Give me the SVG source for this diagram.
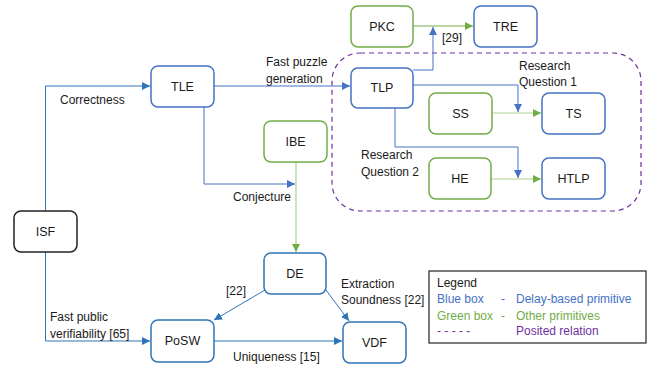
<svg xmlns="http://www.w3.org/2000/svg" width="648" height="369" viewBox="0 0 648 369">
<style>
text{font-family:"Liberation Sans",Arial,sans-serif;font-size:12px;fill:#1a1a1a}
.lbl{text-anchor:middle;font-size:12.5px}
.b rect{fill:#fff;stroke:#4472C4;stroke-width:1.5}
.c rect{fill:#fff;stroke:#2E75B6;stroke-width:1.5}
.g rect{fill:#fff;stroke:#70AD47;stroke-width:1.5}
.k rect{fill:#fff;stroke:#222;stroke-width:1.5}
.lb{fill:none;stroke:#4472C4;stroke-width:1}
.lc{fill:none;stroke:#2E75B6;stroke-width:1}
.lg{fill:none;stroke:#70AD47;stroke-width:1}
.lgl{fill:none;stroke:#A9D18E;stroke-width:1.2}
</style>
<defs>
<marker id="ab" viewBox="0 0 10 10" refX="10" refY="5" markerWidth="8" markerHeight="8" markerUnits="userSpaceOnUse" orient="auto"><path d="M0,0L10,5L0,10z" fill="#4472C4"/></marker>
<marker id="ac" viewBox="0 0 10 10" refX="10" refY="5" markerWidth="8" markerHeight="8" markerUnits="userSpaceOnUse" orient="auto"><path d="M0,0L10,5L0,10z" fill="#2E75B6"/></marker>
<marker id="ag" viewBox="0 0 10 10" refX="10" refY="5" markerWidth="8" markerHeight="8" markerUnits="userSpaceOnUse" orient="auto"><path d="M0,0L10,5L0,10z" fill="#70AD47"/></marker>
</defs>
<rect x="332" y="53" width="309" height="158" rx="28" fill="none" stroke="#7030A0" stroke-width="1.2" stroke-dasharray="5,4"/>
<g id="connectors">
<path class="lc" d="M45.5,211V86H150" marker-end="url(#ac)"/>
<path class="lc" d="M45.5,252V341H150" marker-end="url(#ac)"/>
<path class="lb" d="M214,86H350" marker-end="url(#ab)"/>
<path class="lb" d="M204,107V184H295" marker-end="url(#ab)"/>
<path class="lgl" d="M296,162V252" marker-end="url(#ag)"/>
<path class="lc" d="M265,290L214,320" marker-end="url(#ac)"/>
<path class="lc" d="M326,290L349,321" marker-end="url(#ac)"/>
<path class="lc" d="M214,341H342" marker-end="url(#ac)"/>
<path class="lb" d="M413,70H433V27" marker-end="url(#ab)"/>
<path class="lg" d="M413,26H473" marker-end="url(#ag)"/>
<path class="lb" d="M413,85H518V112" marker-end="url(#ab)"/>
<path class="lgl" d="M492,113H541" marker-end="url(#ag)"/>
<path class="lb" d="M395,108V147H518V178" marker-end="url(#ab)"/>
<path class="lgl" d="M491,179H541" marker-end="url(#ag)"/>
</g>
<g id="ISF" class="k"><rect x="14" y="211" width="63" height="41" rx="7"/><text class="lbl" x="45.5" y="236">ISF</text></g>
<g id="TLE" class="b"><rect x="151" y="66" width="63" height="41" rx="7"/><text class="lbl" x="182.5" y="91">TLE</text></g>
<g id="IBE" class="g"><rect x="264" y="121" width="63" height="41" rx="7"/><text class="lbl" x="295.5" y="146">IBE</text></g>
<g id="DE" class="c"><rect x="264" y="253" width="62" height="41" rx="7"/><text class="lbl" x="295" y="278">DE</text></g>
<g id="PoSW" class="c"><rect x="151" y="320" width="63" height="42" rx="7"/><text class="lbl" x="182.5" y="345">PoSW</text></g>
<g id="VDF" class="c"><rect x="343" y="322" width="63" height="41" rx="7"/><text class="lbl" x="374.5" y="347">VDF</text></g>
<g id="PKC" class="g"><rect x="351" y="6" width="62" height="41" rx="7"/><text class="lbl" x="382" y="31">PKC</text></g>
<g id="TRE" class="b"><rect x="474" y="6" width="63" height="41" rx="7"/><text class="lbl" x="505.5" y="31">TRE</text></g>
<g id="TLP" class="b"><rect x="351" y="68" width="62" height="40" rx="7"/><text class="lbl" x="382" y="92">TLP</text></g>
<g id="SS" class="g"><rect x="429" y="93" width="63" height="41" rx="7"/><text class="lbl" x="460.5" y="118">SS</text></g>
<g id="TS" class="b"><rect x="542" y="93" width="63" height="41" rx="7"/><text class="lbl" x="573.5" y="118">TS</text></g>
<g id="HE" class="g"><rect x="429" y="158" width="62" height="41" rx="7"/><text class="lbl" x="460" y="183">HE</text></g>
<g id="HTLP" class="b"><rect x="542" y="158" width="63" height="41" rx="7"/><text class="lbl" x="573.5" y="183">HTLP</text></g>
<g id="labels">
<text x="60" y="104">Correctness</text>
<text x="266" y="66">Fast puzzle</text>
<text x="266" y="83">generation</text>
<text x="233" y="201">Conjecture</text>
<text x="226" y="295">[22]</text>
<text x="50" y="321">Fast public</text>
<text x="50" y="338">verifiability [65]</text>
<text x="233" y="361">Uniqueness [15]</text>
<text x="341" y="288">Extraction</text>
<text x="341" y="304">Soundness [22]</text>
<text x="442" y="42">[29]</text>
<text x="519" y="70">Research</text>
<text x="519" y="86">Question 1</text>
<text x="361" y="159">Research</text>
<text x="361" y="176">Question 2</text>
</g>
<g id="legend">
<rect x="429" y="271" width="217" height="72" fill="#fff" stroke="#222" stroke-width="1.2"/>
<text x="437" y="287">Legend</text>
<text x="437" y="303" style="fill:#4472C4">Blue box</text>
<text x="501" y="303" style="fill:#4472C4">-</text>
<text x="516" y="303" style="fill:#4472C4">Delay-based primitive</text>
<text x="437" y="320" style="fill:#70AD47">Green box</text>
<text x="501" y="320" style="fill:#70AD47">-</text>
<text x="516" y="320" style="fill:#70AD47">Other primitives</text>
<text x="437" y="335" style="fill:#7030A0">- - - - -</text>
<text x="516" y="335" style="fill:#7030A0">Posited relation</text>
</g>
</svg>
